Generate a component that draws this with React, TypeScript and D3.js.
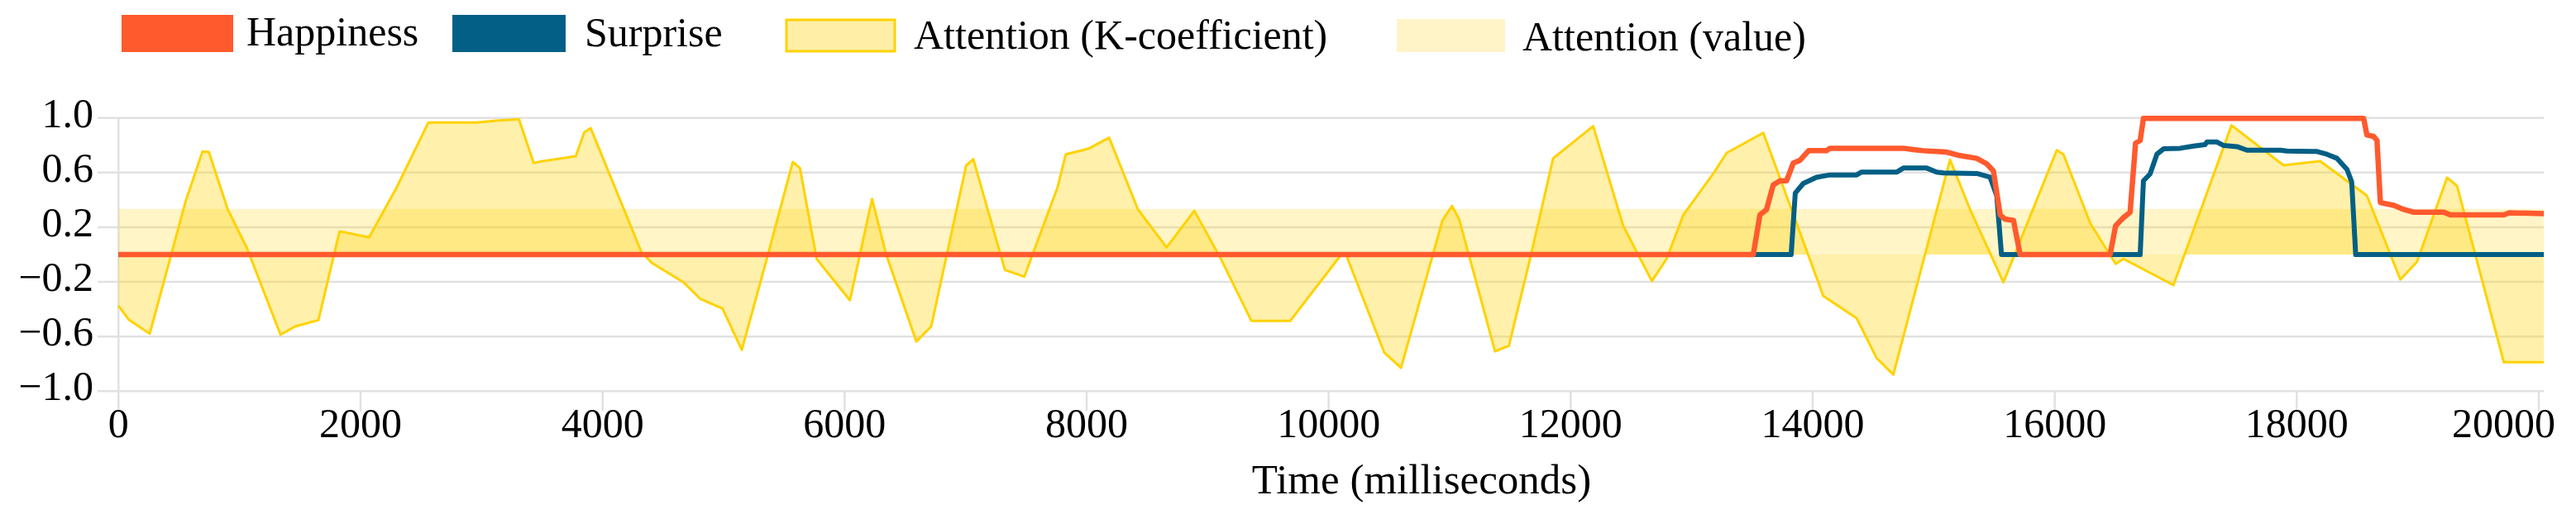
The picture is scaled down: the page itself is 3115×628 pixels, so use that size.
import React from "react";
import * as d3 from "d3";

// time (ms), value
const attentionK: [number, number][] = [
  [0, -0.375], [84, -0.476], [258, -0.58], [555, 0.39], [694, 0.754], [747, 0.75],
  [903, 0.33], [1060, 0.05], [1339, -0.587], [1460, -0.526], [1652, -0.48],
  [1827, 0.17], [2071, 0.125], [2298, 0.49], [2560, 0.966], [2960, 0.966],
  [3117, 0.98], [3309, 0.99], [3431, 0.67], [3483, 0.68], [3779, 0.72],
  [3849, 0.895], [3902, 0.925], [4320, 0.02], [4406, -0.06], [4670, -0.204],
  [4808, -0.325], [4991, -0.395], [5151, -0.698], [5357, -0.032], [5572, 0.678],
  [5631, 0.633], [5769, -0.032], [6044, -0.335], [6227, 0.407], [6341, 0.008],
  [6593, -0.637], [6716, -0.526], [7005, 0.653], [7064, 0.698], [7325, -0.113],
  [7485, -0.163], [7760, 0.492], [7828, 0.734], [8012, 0.774], [8186, 0.855],
  [8424, 0.331], [8661, 0.052], [8890, 0.32], [9110, -0.032], [9362, -0.486],
  [9682, -0.486], [10094, -0.012], [10140, 0.008], [10460, -0.718], [10598, -0.829],
  [10941, 0.25], [11019, 0.355], [11078, 0.26], [11375, -0.708], [11490, -0.667],
  [11662, -0.04], [11855, 0.704], [12186, 0.94], [12434, 0.21], [12671, -0.194],
  [12793, -0.032], [12931, 0.29], [13179, 0.593], [13289, 0.744], [13592, 0.891],
  [14088, -0.304], [14363, -0.466], [14528, -0.758], [14666, -0.879], [15135, 0.694],
  [15300, 0.331], [15576, -0.204], [16017, 0.764], [16072, 0.734], [16293, 0.23],
  [16503, -0.068], [16568, -0.032], [16981, -0.224], [17461, 0.946], [17891, 0.653],
  [18194, 0.684], [18580, 0.431], [18856, -0.183], [18994, -0.053], [19242, 0.563],
  [19325, 0.502], [19711, -0.788], [20042, -0.788],
];

const attentionValue: [number, number][] = [
  [0, 0.335], [20042, 0.335],
];

const happiness: [number, number][] = [
  [0, 0], [13509, 0], [13564, 0.29], [13619, 0.33], [13674, 0.51], [13729, 0.54],
  [13784, 0.54], [13840, 0.67], [13895, 0.69], [13966, 0.76], [14114, 0.76],
  [14142, 0.778], [14749, 0.778], [14831, 0.768], [14915, 0.76], [15108, 0.75],
  [15218, 0.724], [15356, 0.704], [15438, 0.664], [15493, 0.613], [15549, 0.29],
  [15587, 0.26], [15659, 0.25], [15714, 0], [16458, 0], [16503, 0.21],
  [16568, 0.27], [16623, 0.31], [16668, 0.815], [16706, 0.835], [16733, 0.996],
  [18553, 0.996], [18580, 0.875], [18635, 0.865], [18663, 0.835], [18691, 0.38],
  [18802, 0.36], [18884, 0.33], [18967, 0.31], [19215, 0.31], [19270, 0.29],
  [19711, 0.29], [19755, 0.305], [20042, 0.3],
];

const surprise: [number, number][] = [
  [0, 0], [13822, 0], [13856, 0.45], [13922, 0.52], [14032, 0.566], [14142, 0.583],
  [14363, 0.583], [14401, 0.603], [14693, 0.603], [14749, 0.633], [14942, 0.633],
  [15024, 0.603], [15080, 0.597], [15356, 0.593], [15466, 0.566], [15521, 0.43],
  [15560, 0], [16706, 0], [16733, 0.54], [16788, 0.59], [16844, 0.734],
  [16899, 0.774], [17037, 0.778], [17147, 0.794], [17241, 0.804], [17258, 0.824],
  [17341, 0.824], [17396, 0.798], [17507, 0.79], [17589, 0.764], [17865, 0.764],
  [17920, 0.758], [18168, 0.754], [18250, 0.734], [18333, 0.704], [18415, 0.623],
  [18454, 0.532], [18487, 0], [20042, 0],
];

const xTicks = [0, 2000, 4000, 6000, 8000, 10000, 12000, 14000, 16000, 18000, 20000];
const yTicks = [1.0, 0.6, 0.2, -0.2, -0.6, -1.0];
const yTickLabels = ["1.0", "0.6", "0.2", "\u22120.2", "\u22120.6", "\u22121.0"];
const legendLabels = ["Happiness", "Surprise", "Attention (\u039A-coefficient)", "Attention (value)"];

const ORANGE = "#ff5a2e";
const BLUE = "#035f85";
const GOLD = "#ffd200";
const GRID = "#e1e1e1";
const FONT = "'Liberation Serif', 'Times New Roman', serif";

export default function App() {
  const x = d3.scaleLinear().domain([0, 20000]).range([143.3, 3070]);
  const y = d3.scaleLinear().domain([-1, 1]).range([473.3, 142.7]);
  const xEnd = x(20042);

  const area = d3
    .area<[number, number]>()
    .x((d) => x(d[0]))
    .y0(y(0))
    .y1((d) => y(d[1]));
  const line = d3
    .line<[number, number]>()
    .x((d) => x(d[0]))
    .y((d) => y(d[1]));

  // legend layout: swatch x, width, top, bottom, text x, baseline
  const legend = [
    { sx: 147, sw: 135, st: 18, sb: 63, tx: 298, ty: 55, fill: ORANGE, stroke: "none" },
    { sx: 547, sw: 137, st: 18, sb: 63, tx: 707, ty: 56, fill: BLUE, stroke: "none" },
    { sx: 951, sw: 131, st: 24, sb: 62, tx: 1105, ty: 59, fill: "#ffeea6", stroke: GOLD },
    { sx: 1689, sw: 131, st: 23, sb: 63, tx: 1841, ty: 61, fill: "#fff3c8", stroke: "none" },
  ];

  return (
    <svg
      width={3115}
      height={628}
      style={{ position: "absolute", left: 0, top: 0, background: "#fff" }}
      fontFamily={FONT}
    >
      {legend.map((l, i) => (
        <g key={i}>
          <rect
            x={l.sx}
            y={l.st}
            width={l.sw}
            height={l.sb - l.st}
            fill={l.fill}
            stroke={l.stroke}
            strokeWidth={3}
          />
          <text x={l.tx} y={l.ty} fontSize={50} fill="#000">
            {legendLabels[i]}
          </text>
        </g>
      ))}

      {/* grid */}
      {yTicks.map((t, i) => (
        <g key={"y" + i}>
          <line x1={118} x2={xEnd} y1={y(t)} y2={y(t)} stroke={GRID} strokeWidth={2.5} />
          <text x={113} y={y(t)} dy={11} textAnchor="end" fontSize={50}>
            {yTickLabels[i]}
          </text>
        </g>
      ))}
      <line x1={x(0)} x2={x(0)} y1={y(1)} y2={y(-1)} stroke={GRID} strokeWidth={2.5} />
      {xTicks.map((t, i) => (
        <g key={"x" + i}>
          <line x1={x(t)} x2={x(t)} y1={y(-1)} y2={y(-1) + 24} stroke={GRID} strokeWidth={2.5} />
          <text
            x={i === xTicks.length - 1 ? 3090 : x(t)}
            y={529}
            textAnchor={i === xTicks.length - 1 ? "end" : "middle"}
            fontSize={50}
          >
            {t}
          </text>
        </g>
      ))}

      {/* attention value band */}
      <path d={area(attentionValue) || ""} fill={GOLD} fillOpacity={0.22} stroke="none" />

      {/* attention K-coefficient */}
      <path d={area(attentionK) || ""} fill={GOLD} fillOpacity={0.33} stroke="none" />
      <path d={line(attentionK) || ""} fill="none" stroke={GOLD} strokeWidth={3} strokeLinejoin="round" />

      <path d={line(surprise) || ""} fill="none" stroke={BLUE} strokeWidth={6} strokeLinejoin="round" />
      <path d={line(happiness) || ""} fill="none" stroke={ORANGE} strokeWidth={6.5} strokeLinejoin="round" />

      <text x={1719} y={597} textAnchor="middle" fontSize={51}>
        Time (milliseconds)
      </text>
    </svg>
  );
}
